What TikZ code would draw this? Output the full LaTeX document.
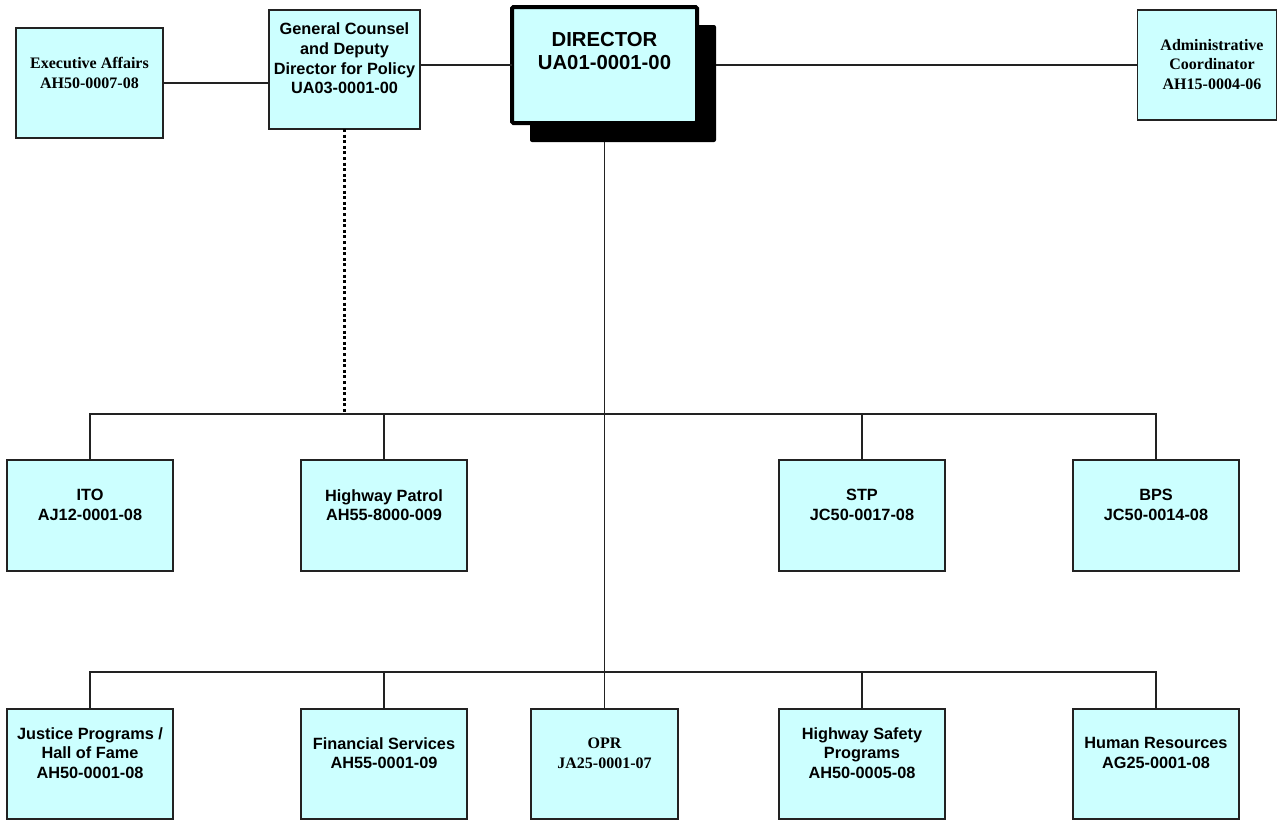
\documentclass[tikz,border=0pt]{standalone}
\usepackage{fontspec}
\newfontfamily\arialf{Liberation Sans}
\newfontfamily\timesf{Liberation Serif}
\definecolor{boxfill}{HTML}{CCFFFF}
\definecolor{edge}{HTML}{222222}
\begin{document}
\begin{tikzpicture}[x=1pt,y=-1pt,
  box/.style={draw=edge,line width=1.3pt,fill=boxfill,inner sep=0pt,outer sep=0pt,rectangle},
  rowa/.style={box,minimum width=166pt,minimum height=111pt},
  rowb/.style={box,minimum width=166pt,minimum height=110pt},
  sans/.style={align=center,inner sep=0pt,font=\arialf\bfseries\fontsize{16.3}{19.6}\selectfont},
  serif/.style={align=center,inner sep=0pt,font=\timesf\bfseries\fontsize{16}{19.6}\selectfont},
  conn/.style={draw=edge,line width=1.2pt},
  dotted line/.style={draw=black,line width=2.2pt,dash pattern=on 3pt off 2.6pt}]
\useasboundingbox (0,0) rectangle (1280,820);

% top row boxes
\node[box,minimum width=147pt,minimum height=110pt] (ea) at (89.5,83) {};
\node[box,minimum width=151pt,minimum height=119pt] (gc) at (344.5,69.5) {};
\node[fill=black,rounded corners=2pt,minimum width=186pt,minimum height=117pt,inner sep=0pt,outer sep=0pt] (dsh) at (623,83.5) {};
\node[box,draw=black,line width=4pt,rounded corners=1.5pt,minimum width=185pt,minimum height=116pt] (dir) at (604.5,65) {};
\node[box,minimum width=139pt,minimum height=110pt] (adm) at (1207,65) {};

\node[serif] (eat) at (89.5,73) {Executive Affairs\\AH50-0007-08};
\node[sans] (gct) at (344.5,58.5) {General Counsel\\and Deputy\\Director for Policy\\UA03-0001-00};
\node[align=center,inner sep=0pt,font=\arialf\bfseries\fontsize{20.3}{23}\selectfont] (dirt) at (604.5,51.5) {DIRECTOR\\UA01-0001-00};
\node[serif] (admt) at (1212,64.5) {Administrative\\Coordinator\\AH15-0004-06};

% row 1
\node[rowa] (ito) at (90,515.5) {};
\node[rowa] (hp) at (384,515.5) {};
\node[rowa] (stp) at (862,515.5) {};
\node[rowa] (bps) at (1156,515.5) {};
\node[sans] (itot) at (90,505) {ITO\\AJ12-0001-08};
\node[sans] (hpt) at (384,505) {Highway Patrol\\AH55-8000-009};
\node[sans] (stpt) at (862,505) {STP\\JC50-0017-08};
\node[sans] (bpst) at (1156,505) {BPS\\JC50-0014-08};

% row 2
\node[rowb] (jp) at (90,764) {};
\node[rowb] (fs) at (384,764) {};
\node[box,minimum width=147pt,minimum height=110pt] (opr) at (604.5,764) {};
\node[rowb] (hs) at (862,764) {};
\node[rowb] (hr) at (1156,764) {};
\node[sans] (jpt) at (90,753) {Justice Programs /\\Hall of Fame\\AH50-0001-08};
\node[sans] (fst) at (384,753) {Financial Services\\AH55-0001-09};
\node[serif] (oprt) at (604.5,753) {OPR\\JA25-0001-07};
\node[sans] (hst) at (862,753) {Highway Safety\\Programs\\AH50-0005-08};
\node[sans] (hrt) at (1156,753) {Human Resources\\AG25-0001-08};

% bus coordinates
\coordinate (b1) at (604.5,414);
\coordinate (b2) at (604.5,672);

% top connectors
\draw[conn] (ea.east) -- (ea.east -| gc.west);
\draw[conn] (dir.west) -- (dir.west -| gc.east);
\draw[conn] (dsh.east |- dir.east) -- (adm.west);
\draw[dotted line] (gc.south) -- (gc.south |- b1);

% main trunk
\draw[conn] (dir.center |- dsh.south) -- (b2);

% bus 1
\draw[conn] (ito.north) -- (ito.north |- b1) -- (bps.north |- b1) -- (bps.north);
\draw[conn] (hp.north) -- (hp.north |- b1);
\draw[conn] (stp.north) -- (stp.north |- b1);

% bus 2
\draw[conn] (jp.north) -- (jp.north |- b2) -- (hr.north |- b2) -- (hr.north);
\draw[conn] (fs.north) -- (fs.north |- b2);
\draw[conn] (opr.north) -- (b2);
\draw[conn] (hs.north) -- (hs.north |- b2);
\end{tikzpicture}
\end{document}
